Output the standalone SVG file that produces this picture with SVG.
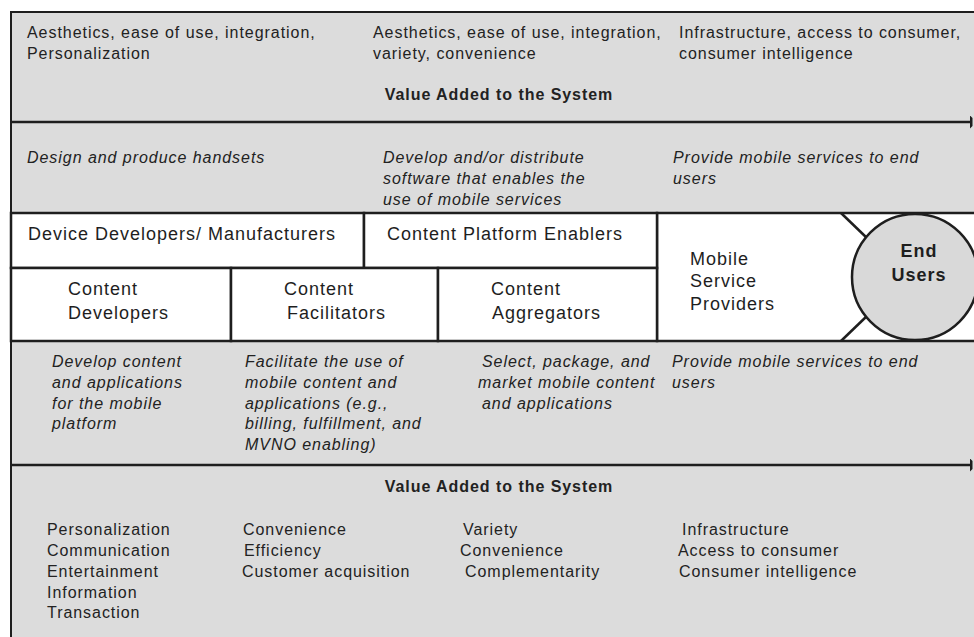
<svg xmlns="http://www.w3.org/2000/svg" width="974" height="637" viewBox="0 0 974 637">
  <defs>
    <style>
      .bg { fill: #dcdcdc; stroke: #1e1e1e; stroke-width: 2; }
      .box { fill: #ffffff; stroke: #1e1e1e; stroke-width: 2.5; }
      .ln { stroke: #1e1e1e; stroke-width: 2.5; fill: none; }
      .t { font-family: "Liberation Sans", Arial, sans-serif; font-size: 16px; letter-spacing: 0.95px; fill: #222222; }
      .i { font-style: italic; }
      .b { font-weight: bold; }
      .lbl { font-family: "Liberation Sans", Arial, sans-serif; font-size: 18px; letter-spacing: 1px; fill: #1e1e1e; }
      .c { text-anchor: middle; }
    </style>
    <marker id="bar" viewBox="0 0 3 14" refX="0.5" refY="7" markerWidth="3" markerHeight="14" markerUnits="userSpaceOnUse" orient="auto">
      <path d="M0,0 L3,3 L3,11 L0,14 Z" fill="#1e1e1e"/>
    </marker>
  </defs>

  <!-- Page frame -->
  <rect class="bg" x="11" y="12" width="975" height="640"/>

  <!-- Upstream value band -->
  <g id="upstream-value">
    <text class="t" x="27" y="38">Aesthetics, ease of use, integration,</text>
    <text class="t" x="27" y="59">Personalization</text>
    <text class="t" x="373" y="38">Aesthetics, ease of use, integration,</text>
    <text class="t" x="373" y="59">variety, convenience</text>
    <text class="t" x="679" y="38">Infrastructure, access to consumer,</text>
    <text class="t" x="679" y="59">consumer intelligence</text>
    <text class="t b c" x="499" y="100">Value Added to the System</text>
  </g>

  <!-- Upstream role descriptions -->
  <g id="upstream-roles">
    <text class="t i" x="27" y="163">Design and produce handsets</text>
    <text class="t i" x="383" y="163">Develop and/or distribute</text>
    <text class="t i" x="383" y="184">software that enables the</text>
    <text class="t i" x="383" y="205">use of mobile services</text>
    <text class="t i" x="673" y="163">Provide mobile services to end</text>
    <text class="t i" x="673" y="184">users</text>
  </g>

  <!-- Value chain participants -->
  <g id="mobile-service-providers">
    <rect class="box" x="657" y="213" width="330" height="128"/>
    <text class="lbl" x="690" y="265">Mobile</text>
    <text class="lbl" x="690" y="287">Service</text>
    <text class="lbl" x="690" y="310">Providers</text>
  </g>
  <g id="device-developers">
    <rect class="box" x="11" y="213" width="353" height="55"/>
    <text class="lbl" x="28" y="240">Device Developers/ Manufacturers</text>
  </g>
  <g id="content-platform-enablers">
    <rect class="box" x="364" y="213" width="293" height="55"/>
    <text class="lbl" x="387" y="240">Content Platform Enablers</text>
  </g>
  <g id="content-developers">
    <rect class="box" x="11" y="268" width="220" height="73"/>
    <text class="lbl" x="68" y="295">Content</text>
    <text class="lbl" x="68" y="319">Developers</text>
  </g>
  <g id="content-facilitators">
    <rect class="box" x="231" y="268" width="207" height="73"/>
    <text class="lbl" x="284" y="295">Content</text>
    <text class="lbl" x="287" y="319">Facilitators</text>
  </g>
  <g id="content-aggregators">
    <rect class="box" x="438" y="268" width="219" height="73"/>
    <text class="lbl" x="491" y="295">Content</text>
    <text class="lbl" x="492" y="319">Aggregators</text>
  </g>

  <!-- Connectors: value axes and links to end users -->
  <g id="connectors">
    <line class="ln" x1="11" y1="122" x2="970" y2="122" marker-end="url(#bar)"/>
    <line class="ln" x1="11" y1="465" x2="970" y2="465" marker-end="url(#bar)"/>
    <line class="ln" x1="841" y1="213" x2="868" y2="239"/>
    <line class="ln" x1="841" y1="341" x2="868" y2="315"/>
  </g>

  <g id="end-users">
    <circle cx="915" cy="277" r="63" fill="#d9d9d9" stroke="#1e1e1e" stroke-width="2.5"/>
    <text class="lbl b c" x="919" y="257">End</text>
    <text class="lbl b c" x="919" y="281">Users</text>
  </g>

  <!-- Downstream role descriptions -->
  <g id="downstream-roles">
    <text class="t i" x="52" y="367">Develop content</text>
    <text class="t i" x="52" y="388">and applications</text>
    <text class="t i" x="52" y="409">for the mobile</text>
    <text class="t i" x="52" y="429">platform</text>
    <text class="t i" x="245" y="367">Facilitate the use of</text>
    <text class="t i" x="245" y="388">mobile content and</text>
    <text class="t i" x="245" y="409">applications (e.g.,</text>
    <text class="t i" x="245" y="429">billing, fulfillment, and</text>
    <text class="t i" x="245" y="450">MVNO enabling)</text>
    <text class="t i" x="482" y="367">Select, package, and</text>
    <text class="t i" x="478" y="388">market mobile content</text>
    <text class="t i" x="482" y="409">and applications</text>
    <text class="t i" x="672" y="367">Provide mobile services to end</text>
    <text class="t i" x="672" y="388">users</text>
  </g>

  <!-- Downstream value band -->
  <g id="downstream-value">
    <text class="t b c" x="499" y="492">Value Added to the System</text>
    <text class="t" x="47" y="535">Personalization</text>
    <text class="t" x="47" y="556">Communication</text>
    <text class="t" x="47" y="577">Entertainment</text>
    <text class="t" x="47" y="598">Information</text>
    <text class="t" x="47" y="618">Transaction</text>
    <text class="t" x="243" y="535">Convenience</text>
    <text class="t" x="244" y="556">Efficiency</text>
    <text class="t" x="242" y="577">Customer acquisition</text>
    <text class="t" x="463" y="535">Variety</text>
    <text class="t" x="460" y="556">Convenience</text>
    <text class="t" x="465" y="577">Complementarity</text>
    <text class="t" x="682" y="535">Infrastructure</text>
    <text class="t" x="678" y="556">Access to consumer</text>
    <text class="t" x="679" y="577">Consumer intelligence</text>
  </g>
</svg>
